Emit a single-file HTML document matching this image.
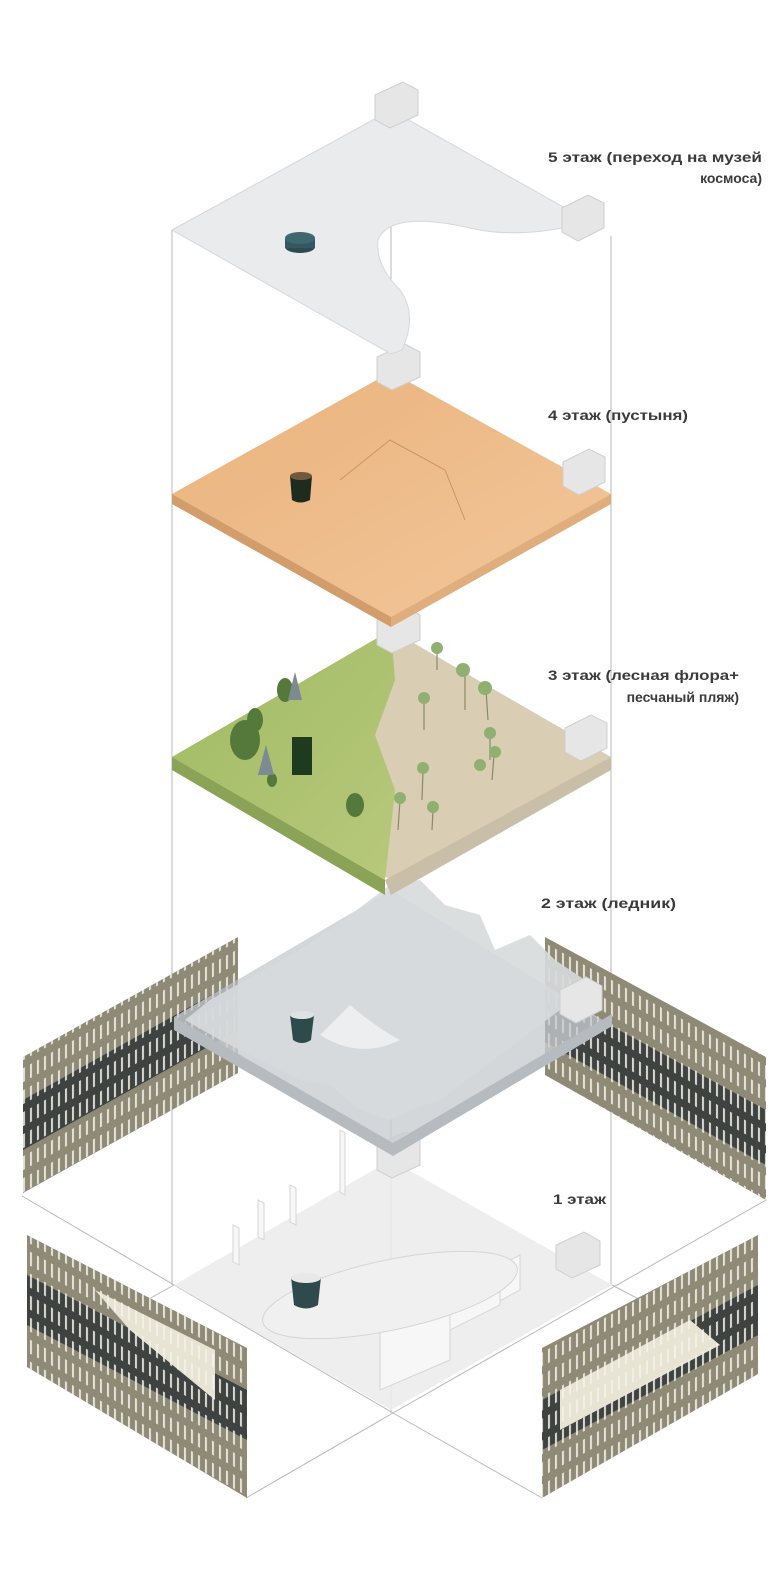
<!DOCTYPE html>
<html><head><meta charset="utf-8"><style>
html,body{margin:0;padding:0;background:#fff}
svg{display:block}
text{font-family:"Liberation Sans","DejaVu Sans",sans-serif;font-weight:bold;font-size:14px;fill:#3a3a3a}
</style></head><body>
<svg width="776" height="1578" viewBox="0 0 776 1578" xmlns="http://www.w3.org/2000/svg">
<defs>
<pattern id="slitL" width="7" height="22" patternUnits="userSpaceOnUse" patternTransform="skewY(-29)">
<rect x="2" y="3" width="2" height="14" fill="#f4f2ea"/>
</pattern>
<pattern id="slitR" width="7" height="22" patternUnits="userSpaceOnUse" patternTransform="skewY(29)">
<rect x="2" y="3" width="2" height="14" fill="#f4f2ea"/>
</pattern>
<linearGradient id="sand" x1="0" y1="0" x2="1" y2="1">
<stop offset="0" stop-color="#e9b27c"/><stop offset="1" stop-color="#f3c79a"/></linearGradient>
<linearGradient id="grass" x1="0" y1="0" x2="1" y2="1">
<stop offset="0" stop-color="#9fbb63"/><stop offset="1" stop-color="#b8c87c"/></linearGradient>
</defs>

<!-- frame lines -->
<g stroke="#b9b9b9" stroke-width="1" fill="none">
<line x1="172" y1="230" x2="172" y2="1285"/>
<line x1="611" y1="236" x2="611" y2="1285"/>
<line x1="391" y1="110" x2="391" y2="1413"/>
<line x1="22" y1="1196" x2="393" y2="1413"/>
<line x1="766" y1="1200" x2="393" y2="1413"/>
<line x1="27" y1="1367" x2="174" y2="1285"/>
<line x1="612" y1="1285" x2="756" y2="1361"/>
<line x1="393" y1="1413" x2="246" y2="1498"/>
<line x1="393" y1="1413" x2="542" y2="1498"/>
</g>

<!-- panels -->
<g>
<polygon points="23,1057 238,937 238,1073 23,1193" fill="#8e8a76"/>
<polygon points="23,1100 238,980 238,1030 23,1150" fill="#3e4341"/>
<polygon points="23,1057 238,937 238,1073 23,1193" fill="url(#slitL)" opacity="0.85"/>
<polygon points="545,937 766,1057 766,1200 545,1075" fill="#8e8a76"/>
<polygon points="545,990 766,1110 766,1165 545,1042" fill="#3e4341"/>
<polygon points="545,937 766,1057 766,1200 545,1075" fill="url(#slitR)" opacity="0.85"/>
<polygon points="27,1235 247,1348 247,1498 27,1367" fill="#8e8a76"/>
<polygon points="27,1275 247,1390 247,1440 27,1325" fill="#3e4341"/>
<polygon points="95,1290 215,1350 215,1400 130,1330" fill="#e8e4d4"/>
<polygon points="27,1235 247,1348 247,1498 27,1367" fill="url(#slitR)" opacity="0.85"/>
<polygon points="542,1348 758,1235 758,1374 542,1498" fill="#8e8a76"/>
<polygon points="542,1400 758,1285 758,1335 542,1450" fill="#3e4341"/>
<polygon points="560,1390 690,1320 720,1345 560,1430" fill="#e8e4d4"/>
<polygon points="542,1348 758,1235 758,1374 542,1498" fill="url(#slitL)" opacity="0.85"/>
</g>

<!-- floor 1 -->
<polygon points="174,1285 391,1160 612,1285 391,1410" fill="#ececec" opacity="0.9"/>
<g fill="#f7f7f7" stroke="#d6d6d6" stroke-width="1">
<polygon points="340,1130 345,1133 345,1195 340,1192"/>
<polygon points="290,1185 296,1188 296,1225 290,1222"/>
<polygon points="258,1200 264,1203 264,1240 258,1237"/>
<polygon points="233,1225 239,1228 239,1265 233,1262"/>
<polygon points="455,1290 520,1255 520,1290 455,1325"/>
<polygon points="420,1310 500,1270 500,1305 420,1345"/>
<polygon points="380,1330 450,1290 450,1360 380,1390"/>
</g>
<ellipse cx="390" cy="1295" rx="130" ry="35" fill="#f0f0f0" stroke="#d5d5d5" transform="rotate(-12 390 1295)"/>
<path d="M291,1277 L321,1277 L318,1305 Q306,1312 294,1305 Z" fill="#2f4a4d"/>
<ellipse cx="306" cy="1278" rx="15" ry="5" fill="#e8e8e8"/>
<g><polygon points="556,1245 584,1232 600,1241 600,1265 572,1278 556,1269" fill="#e6e6e6" stroke="#cfcfcf"/></g>
<g><polygon points="377,1145 405,1132 420,1140 420,1165 392,1178 377,1170" fill="#e6e6e6" stroke="#cfcfcf"/></g>

<!-- floor 2 ice -->
<polygon points="174,1017 391,890 612,1026 393,1156" fill="#c9cdd0" opacity="0.8"/>
<path d="M210,1000 L300,950 L350,915 L390,885 L420,880 L445,905 L480,915 L495,950 L530,935 L555,960 L600,990 L560,1010 L520,1040 L480,1070 L460,1085 L440,1100 L410,1110 L390,1120 L360,1110 L330,1085 L300,1080 L260,1060 L220,1040 L185,1020 Z" fill="#d7dadc" opacity="0.9"/>
<polygon points="174,1017 393,1143 612,1014 612,1026 393,1156 174,1030" fill="#b6bbbf"/>
<path d="M320,1035 Q360,1060 400,1040 Q380,1030 350,1005 Z" fill="#eceeef"/>
<path d="M290,1015 L314,1015 L311,1040 Q302,1046 293,1040 Z" fill="#2f4a4d"/>
<ellipse cx="302" cy="1015" rx="12" ry="4" fill="#dfe2e4"/>
<polygon points="560,990 586,977 602,986 602,1010 576,1023 560,1014" fill="#e6e6e6" stroke="#cfcfcf"/>

<!-- floor 3 -->
<polygon points="172,757 391,630 611,757 391,880" fill="#d9cdb3"/>
<polygon points="172,757 391,630 395,680 375,735 395,790 385,880" fill="url(#grass)"/>
<polygon points="172,757 385,880 385,895 172,770" fill="#8aa356"/>
<polygon points="385,880 611,757 611,770 391,895" fill="#c9bfa8"/>
<g fill="#54793a">
<ellipse cx="245" cy="740" rx="15" ry="20"/><ellipse cx="255" cy="720" rx="8" ry="12"/>
<ellipse cx="285" cy="690" rx="8" ry="12"/><ellipse cx="355" cy="805" rx="9" ry="12"/>
<ellipse cx="272" cy="780" rx="5" ry="7"/>
</g>
<g fill="#7d8a93"><polygon points="295,672 288,700 302,700"/><polygon points="266,745 258,775 274,775"/></g>
<rect x="292" y="737" width="20" height="38" fill="#1e3a1f"/>
<g stroke="#8a8a6a" stroke-width="1.2"><line x1="437" y1="650" x2="437" y2="670"/><line x1="465" y1="675" x2="465" y2="710"/><line x1="486" y1="690" x2="488" y2="720"/><line x1="424" y1="700" x2="424" y2="730"/><line x1="490" y1="735" x2="490" y2="760"/><line x1="423" y1="770" x2="422" y2="800"/><line x1="494" y1="755" x2="492" y2="780"/><line x1="400" y1="800" x2="398" y2="830"/><line x1="433" y1="810" x2="432" y2="830"/></g>
<g fill="#8fb071"><circle cx="437" cy="648" r="6"/><circle cx="463" cy="670" r="7"/><circle cx="485" cy="688" r="7"/><circle cx="424" cy="698" r="6"/><circle cx="490" cy="733" r="6"/><circle cx="423" cy="768" r="6"/><circle cx="495" cy="752" r="6"/><circle cx="400" cy="798" r="6"/><circle cx="433" cy="807" r="6"/><circle cx="480" cy="765" r="6"/></g>
<polygon points="377,620 405,607 420,615 420,640 392,653 377,645" fill="#e6e6e6" stroke="#cfcfcf"/>
<polygon points="565,728 591,715 607,723 607,748 581,761 565,752" fill="#e6e6e6" stroke="#cfcfcf"/>

<!-- floor 4 -->
<polygon points="172,494 391,372 611,494 391,617" fill="url(#sand)"/>
<polygon points="172,494 391,617 391,627 172,504" fill="#d29d6b"/>
<polygon points="391,617 611,494 611,504 391,627" fill="#e0ad7d"/>
<path d="M340,480 L390,440 L445,470 L465,520" fill="none" stroke="#c99567" stroke-width="1"/>
<path d="M290,476 L312,476 L310,500 Q300,505 292,500 Z" fill="#1f2b1e"/>
<ellipse cx="301" cy="476" rx="11" ry="4" fill="#6e5a3c"/>
<polygon points="377,357 405,344 420,352 420,377 392,390 377,382" fill="#e6e6e6" stroke="#cfcfcf"/>
<polygon points="563,462 589,449 605,457 605,482 579,495 563,486" fill="#e6e6e6" stroke="#cfcfcf"/>

<!-- floor 5 -->
<path d="M172,230 L391,110 L590,222 Q520,240 470,228 Q390,210 378,240 Q375,265 400,290 Q418,315 402,350 L391,354 Z" fill="#eaebed" stroke="#d6d7d9" stroke-width="1"/>
<ellipse cx="300" cy="247" rx="15" ry="6" fill="#2d4b52"/>
<rect x="285" y="238" width="30" height="10" fill="#355860"/>
<ellipse cx="300" cy="238" rx="15" ry="6" fill="#3e6770"/>
<polygon points="375,95 403,82 418,90 418,115 390,128 375,120" fill="#e6e6e6" stroke="#cfcfcf"/>
<polygon points="562,208 588,195 604,203 604,228 578,241 562,232" fill="#e6e6e6" stroke="#cfcfcf"/>

<!-- labels -->
<text x="548" y="162" textLength="214" lengthAdjust="spacingAndGlyphs">5 этаж (переход на музей</text>
<text x="762" y="183" text-anchor="end">космоса)</text>
<text x="548" y="420" textLength="140" lengthAdjust="spacingAndGlyphs">4 этаж (пустыня)</text>
<text x="548" y="680" textLength="191" lengthAdjust="spacingAndGlyphs">3 этаж (лесная флора+</text>
<text x="739" y="702" text-anchor="end">песчаный пляж)</text>
<text x="541" y="908" textLength="135" lengthAdjust="spacingAndGlyphs">2 этаж (ледник)</text>
<text x="553" y="1204" textLength="53" lengthAdjust="spacingAndGlyphs">1 этаж</text>
</svg>
</body></html>
